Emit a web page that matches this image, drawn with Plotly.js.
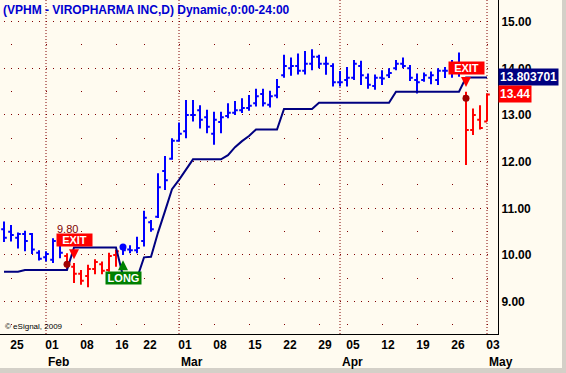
<!DOCTYPE html>
<html><head><meta charset="utf-8">
<script src="https://cdn.plot.ly/plotly-3.0.1.min.js"></script>
<style>html,body{margin:0;padding:0;background:#FFFBF0;}#chart{width:566px;height:373px;}</style>
</head><body><div id="chart"></div>
<script>
// ---- data (trading days) ----
const dates = ['2010-01-22','2010-01-25','2010-01-26','2010-01-27','2010-01-28','2010-01-29',
 '2010-02-01','2010-02-02','2010-02-03','2010-02-04','2010-02-05',
 '2010-02-08','2010-02-09','2010-02-10','2010-02-11','2010-02-12',
 '2010-02-16','2010-02-17','2010-02-18','2010-02-19',
 '2010-02-22','2010-02-23','2010-02-24','2010-02-25','2010-02-26',
 '2010-03-01','2010-03-02','2010-03-03','2010-03-04','2010-03-05',
 '2010-03-08','2010-03-09','2010-03-10','2010-03-11','2010-03-12',
 '2010-03-15','2010-03-16','2010-03-17','2010-03-18','2010-03-19',
 '2010-03-22','2010-03-23','2010-03-24','2010-03-25','2010-03-26',
 '2010-03-29','2010-03-30','2010-03-31','2010-04-01',
 '2010-04-05','2010-04-06','2010-04-07','2010-04-08','2010-04-09',
 '2010-04-12','2010-04-13','2010-04-14','2010-04-15','2010-04-16',
 '2010-04-19','2010-04-20','2010-04-21','2010-04-22','2010-04-23',
 '2010-04-26','2010-04-27','2010-04-28','2010-04-29','2010-04-30',
 '2010-05-03'];
const open  = [10.55,10.50,10.37,10.45,10.45,10.05,9.95,9.90,10.30,9.98,9.75,9.60,9.55,9.70,9.80,9.68,10.00,
 10.15,10.12,10.10,10.30,10.70,10.82,11.80,12.06,12.45,12.65,13.00,13.10,12.95,12.60,12.85,12.98,13.05,13.10,
 13.15,13.25,13.45,13.22,13.42,13.85,14.00,14.05,13.95,14.10,14.25,14.10,14.05,13.70,13.75,13.80,14.05,13.80,
 13.62,13.80,13.85,14.00,14.10,14.00,13.75,13.75,13.80,13.75,13.95,13.95,14.00,13.40,12.68,12.90,12.86];
const high  = [10.72,10.64,10.48,10.52,10.47,10.10,10.08,10.36,10.39,10.04,9.83,9.68,9.79,9.91,9.86,10.05,10.11,
 10.21,10.21,10.39,10.95,10.75,11.75,12.12,12.50,12.84,13.32,13.32,13.21,13.11,13.07,13.07,13.25,13.30,13.36,
 13.43,13.56,13.56,13.52,13.77,14.29,14.23,14.32,14.37,14.41,14.29,14.25,14.11,13.94,14.03,14.18,14.16,13.89,
 13.87,13.96,14.00,14.18,14.23,14.07,13.89,13.91,13.93,14.00,14.03,14.18,14.34,13.50,13.14,13.21,13.46];
const low   = [10.28,10.29,10.14,10.08,10.02,9.88,9.86,9.83,9.93,9.70,9.40,9.36,9.31,9.59,9.59,9.64,9.75,
 10.00,10.04,10.04,10.18,10.50,10.79,11.39,12.04,12.43,12.50,12.86,12.71,12.61,12.36,12.61,12.93,13.00,13.04,
 13.09,13.18,13.18,13.16,13.36,13.80,13.84,13.87,13.87,13.96,14.00,13.86,13.61,13.61,13.61,13.75,13.64,13.56,
 13.54,13.64,13.79,13.96,14.00,13.73,13.46,13.71,13.66,13.64,13.79,13.80,13.82,11.93,12.57,12.69,12.86];
const close = [10.37,10.43,10.45,10.30,10.12,9.92,10.02,10.30,10.05,9.80,9.60,9.45,9.70,9.85,9.66,9.98,10.08,
 10.10,10.10,10.15,10.80,10.55,11.45,11.60,12.45,12.60,13.00,13.00,12.90,12.75,12.90,12.95,13.05,13.10,13.15,
 13.20,13.40,13.25,13.40,13.60,14.05,14.05,13.95,14.10,14.25,14.10,14.10,13.70,13.70,13.80,14.10,13.85,13.65,
 13.80,13.78,13.90,14.10,14.05,13.80,13.70,13.85,13.85,13.95,13.95,14.00,13.95,12.68,13.00,12.72,13.44];
const stopLevel = [9.64,9.64,9.64, 9.68,9.68,9.68,9.68,9.68,9.68,9.68,
 10.16,10.16,10.16,10.16,10.16,10.16,10.16, 9.55,9.55,9.50, 9.95,9.96,
 10.48,10.94,11.41,11.61,11.82, 12.05,12.05,12.05,12.05,12.05, 12.14,12.31,12.44,12.55,
 12.69,12.69,12.69,12.69, 13.13,13.13,13.13,13.13,13.13,
 13.26,13.26,13.26,13.26,13.26,13.26,13.26,13.26,13.26,13.26,13.26,
 13.50,13.50,13.50,13.50,13.50,13.50,13.50,13.50,13.50,13.50,
 13.803701,13.803701,13.803701,13.803701];

// axis labels
const weekTickDates  = ['2010-01-25','2010-02-01','2010-02-08','2010-02-16','2010-02-22','2010-03-01','2010-03-08',
 '2010-03-15','2010-03-22','2010-03-29','2010-04-05','2010-04-12','2010-04-19','2010-04-26','2010-05-03'];
const weekTickLabels = ['25','01','08','16','22','01','08','15','22','29','05','12','19','26','03'];
const monthStartDates = ['2010-02-01','2010-03-01','2010-04-01','2010-05-03'];
const monthLabels = ['Feb','Mar','Apr','May'];
const yTickVals = [9,10,11,12,13,14,15];
const yTickLabels = ['9.00','10.00','11.00','12.00','13.00','14.00','15.00'];

// trades / signals
const tradeDates  = ['2010-02-04','2010-02-17','2010-04-28'];
const tradeTypes  = ['EXIT','LONG','EXIT'];
const tradePrices = [9.80, 10.17, 13.36];
const arrowDates  = ['2010-02-05','2010-02-17','2010-04-28'];
const arrowLevels = [9.91, 9.89, 13.60];
const labelDates  = ['2010-02-05','2010-02-17','2010-04-28'];
const labelLevels = [10.33, 9.50, 14.01];
const priceTextDate = '2010-02-04';
const priceTextLevel = 10.56;

// ---- build ----
const idx = d => dates.indexOf(d);
const X = dates.map((d,i)=>i);
const XMIN = -0.571, XMAX = 70.571, YMIN = 8.307, YMAX = 15.464;
const PW = 498;
const BLUE = '#0000FF', RED = '#FF0000', NAVY = '#000080', GRID = '#800000';

// long/flat state per bar
let state = true; const isLong = [];
dates.forEach(d => {
  const k = tradeDates.indexOf(d);
  if (k >= 0) state = tradeTypes[k] === 'LONG';
  isLong.push(state);
});
function ohlcTrace(flag, color) {
  const ii = X.filter(i => isLong[i] === flag);
  return {type:'ohlc', x: ii, open: ii.map(i=>open[i]), high: ii.map(i=>high[i]),
    low: ii.map(i=>low[i]), close: ii.map(i=>close[i]), tickwidth: 0.4, hoverinfo:'skip',
    increasing:{line:{color, width:2}}, decreasing:{line:{color, width:2}}, showlegend:false};
}
const px = i => (i - XMIN) / (XMAX - XMIN) * PW;
function dotDash(positions) {
  const arr = [0]; let prev = 0;
  positions.forEach(p => { const q = Math.round(p); arr.push(q - prev, 1); prev = q + 1; });
  arr.push(PW + 10);
  return arr.map(v => Math.max(v,0) + 'px').join(',');
}
const barDash = dotDash(X.map(px));
const weekIdx = weekTickDates.map(idx);
const weekDash = dotDash(weekIdx.map(px));

const traces = [
  {type:'scatter', mode:'lines', x: X, y: stopLevel, line:{color:NAVY, width:2}, hoverinfo:'skip', showlegend:false},
  ohlcTrace(true, BLUE),
  ohlcTrace(false, RED),
  {type:'scatter', mode:'markers', x: tradeDates.map(idx), y: tradePrices, hoverinfo:'skip', showlegend:false,
   marker:{size:7, color: tradeTypes.map(t => t === 'LONG' ? BLUE : '#A00000')}}
];

const F = 'Liberation Sans, Arial, sans-serif';
const ann = [];
ann.push({x: idx(priceTextDate), y: priceTextLevel, text: tradePrices[0].toFixed(2), showarrow:false,
  font:{family:F, size:11, color:'#800000'}});
labelDates.forEach((d,k) => {
  ann.push({x: idx(d), y: labelLevels[k], text: '<b>'+tradeTypes[k]+'</b>', showarrow:false,
    bgcolor: tradeTypes[k] === 'LONG' ? '#008000' : RED, width:35, height:12, borderpad:0,
    font:{family:F, size:11, color:'#FFFFFF'}});
});
arrowDates.forEach((d,k) => {
  const up = tradeTypes[k] === 'LONG';
  ann.push({x: idx(d), y: arrowLevels[k], text:'', showarrow:true, ax:0, ay: up ? 8 : -8,
    arrowcolor: up ? '#008000' : RED, arrowhead:2, arrowsize:1, arrowwidth:2});
});
ann.push({xref:'paper', x:1, xanchor:'left', y: stopLevel[stopLevel.length-1], text:'<b>'+stopLevel[stopLevel.length-1]+'</b>',
  showarrow:false, bgcolor:NAVY, borderpad:1, font:{family:F, size:12, color:'#FFFFFF'}});
ann.push({xref:'paper', x:1, xanchor:'left', y: close[close.length-1], text:'<b>'+close[close.length-1].toFixed(2)+'</b>',
  showarrow:false, bgcolor:RED, borderpad:1, font:{family:F, size:12, color:'#FFFFFF'}});
monthStartDates.forEach((d,k) => {
  ann.push({x: idx(d), xanchor:'left', yref:'paper', y:0, yanchor:'top', yshift:-19, text:'<b>'+monthLabels[k]+'</b>',
    showarrow:false, font:{family:F, size:12, color:'#000000'}});
});
ann.push({xref:'paper', x:0, xanchor:'left', xshift:3, yref:'paper', y:0, yanchor:'bottom', yshift:1,
  text:'© eSignal, 2009', showarrow:false, font:{family:F, size:8, color:'#000000'}});

const shapes = monthStartDates.map(d => ({type:'line', xref:'x', yref:'paper', x0: idx(d), x1: idx(d), y0:0, y1:1,
  line:{color:GRID, width:1, dash:'1px,2px'}, layer:'below'}));
shapes.push({type:'rect', xref:'paper', yref:'paper', x0: 562/PW, x1: 566/PW, y0: -39/334, y1: 1, fillcolor:'#D4D0C8', line:{width:0}});
shapes.push({type:'rect', xref:'paper', yref:'paper', x0: 0, x1: 566/PW, y0: -39/334, y1: -34/334, fillcolor:'#D4D0C8', line:{width:0}});

const layout = {
  width:566, height:373, margin:{l:0, r:68, t:0, b:39, pad:0},
  paper_bgcolor:'#FFFBF0', plot_bgcolor:'#FFFBF0', showlegend:false,
  font:{family:F, size:12, color:'#000000'},
  title:{text:'<b>(VPHM - VIROPHARMA INC,D) Dynamic,0:00-24:00</b>', font:{family:F, size:12, color:'#0000D0'},
    xref:'container', yref:'container', x: 3/566, xanchor:'left', y: 1 - 10/373, yanchor:'middle'},
  xaxis:{range:[XMIN, XMAX], tickvals: weekIdx, ticktext: weekTickLabels.map(t=>'<b>'+t+'</b>'),
    ticks:'', ticklabelshift:6, showgrid:false, zeroline:false, showline:true, linecolor:'#000000', linewidth:1,
    rangeslider:{visible:false}, tickfont:{family:F, size:12, color:'#000000'}, fixedrange:true},
  yaxis:{range:[YMIN, YMAX], side:'right', tickvals: yTickVals, ticktext: yTickLabels.map(t=>'<b>'+t+'</b>'),
    ticks:'', showgrid:true, gridcolor:GRID, gridwidth:1, griddash: barDash,
    minor:{dtick:0.5, tick0:0, showgrid:true, gridcolor:GRID, gridwidth:1, griddash: weekDash},
    zeroline:false, showline:true, linecolor:'#000000', linewidth:1,
    tickfont:{family:F, size:12, color:'#000000'}, fixedrange:true},
  annotations: ann, shapes: shapes
};
Plotly.newPlot('chart', traces, layout, {staticPlot:true, displayModeBar:false});
</script></body></html>
